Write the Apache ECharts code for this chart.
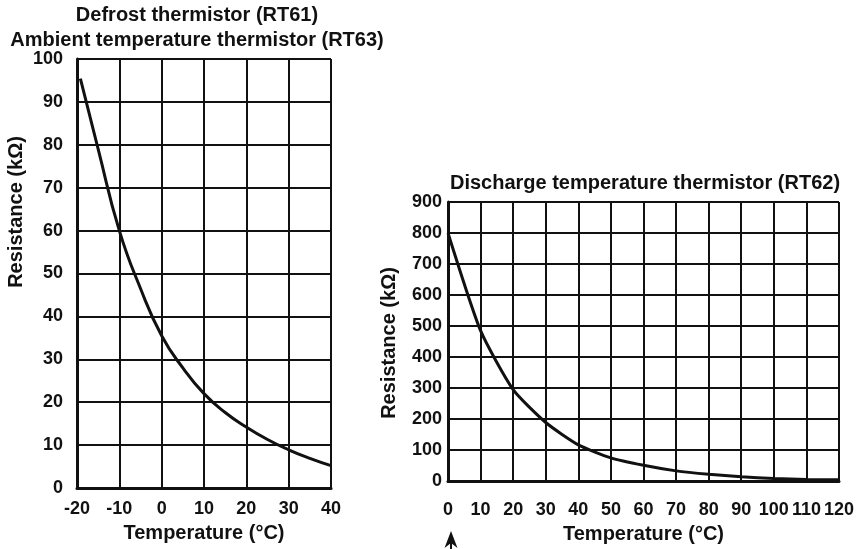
<!DOCTYPE html>
<html>
<head>
<meta charset="utf-8">
<script src="https://cdn.jsdelivr.net/npm/echarts@6/dist/echarts.min.js"></script>
<style>
  html, body { margin: 0; padding: 0; background: #fff; }
  #chart { width: 857px; height: 549px; }
</style>
</head>
<body>
<div id="chart"></div>
<script>
// defrost / ambient thermistor (RT61, RT63)
const leftTemps = [-19.2, -15, -10, -5, 0, 5, 10, 15, 20, 25, 30, 35, 40];
const leftRes = [95.4, 79, 60, 46.5, 35.5, 28, 22, 17.6, 14.2, 11.3, 8.9, 6.9, 5.2];
// discharge thermistor (RT62)
const rightTemps = [0, 10, 20, 30, 40, 50, 60, 70, 80, 90, 100, 110, 120];
const rightRes = [800, 485, 295, 189, 117, 75, 51, 33, 22, 14, 8.5, 5.5, 4];

const FONT = '"Liberation Sans", Arial, sans-serif';
const INK = "#111";

const chart = echarts.init(document.getElementById("chart"));

const labelStyle = (margin) => ({
  fontSize: 18,
  fontWeight: "bold",
  fontFamily: FONT,
  color: INK,
  margin: margin,
});
const nameStyle = {
  fontSize: 20,
  fontWeight: "bold",
  fontFamily: FONT,
  color: INK,
};
const axisBase = (gridIndex, min, max, interval) => ({
  type: "value",
  gridIndex: gridIndex,
  min: min,
  max: max,
  interval: interval,
  axisLine: { show: true, onZero: false, lineStyle: { color: INK, width: 3 } },
  axisTick: { show: false },
  splitLine: { show: true, lineStyle: { color: INK, width: 2 } },
});

let option = {
  animation: false,
  backgroundColor: "#fff",
  grid: [
    { left: 77, top: 59, width: 254, height: 429 },
    { left: 448, top: 202, width: 394, height: 285 },
  ],
  xAxis: [
    Object.assign(axisBase(0, -20, 40, 10), {
      axisLabel: labelStyle(12),
      name: "Temperature (°C)",
      nameLocation: "middle",
      nameGap: 35,
      nameTextStyle: nameStyle,
    }),
    Object.assign(axisBase(1, 0, 120, 10), {
      axisLabel: labelStyle(20),
      name: "Temperature (°C)",
      nameLocation: "middle",
      nameGap: 38,
      nameTextStyle: nameStyle,
    }),
  ],
  yAxis: [
    Object.assign(axisBase(0, 0, 100, 10), { axisLabel: labelStyle(14) }),
    Object.assign(axisBase(1, 0, 900, 100), { axisLabel: labelStyle(6) }),
  ],
  series: [
    {
      type: "line",
      xAxisIndex: 0,
      yAxisIndex: 0,
      data: leftTemps.map((t, i) => [t, leftRes[i]]),
      smooth: 0.5,
      showSymbol: false,
      lineStyle: { color: INK, width: 3 },
    },
    {
      type: "line",
      xAxisIndex: 1,
      yAxisIndex: 1,
      data: rightTemps.map((t, i) => [t, rightRes[i]]),
      smooth: 0.2,
      showSymbol: false,
      lineStyle: { color: INK, width: 3 },
    },
  ],
};
chart.setOption(option);

// titles, y axis names, and the little arrow under 0 °C
const textEl = (text, x, y, rotation) => ({
  type: "text",
  x: x,
  y: y,
  rotation: rotation || 0,
  style: {
    text: text,
    fontSize: 20,
    fontWeight: "bold",
    fontFamily: FONT,
    fill: INK,
    align: "center",
    verticalAlign: "middle",
  },
});
const zeroX = chart.convertToPixel({ xAxisIndex: 1 }, 0);
chart.setOption({
  graphic: [
    textEl("Defrost thermistor (RT61)", 197, 15),
    textEl("Ambient temperature thermistor (RT63)", 197, 40),
    textEl("Discharge temperature thermistor (RT62)", 645, 183),
    textEl("Resistance (kΩ)", 16, 212, Math.PI / 2),
    textEl("Resistance (kΩ)", 389, 343, Math.PI / 2),
    {
      type: "polygon",
      x: zeroX + 3,
      y: 531,
      shape: { points: [[0, 0], [6.5, 17], [0, 12], [-6.5, 17]] },
      style: { fill: INK },
    },
    {
      type: "line",
      x: zeroX + 3,
      y: 531,
      shape: { x1: 0, y1: 10, x2: 0, y2: 18 },
      style: { stroke: INK, lineWidth: 2 },
    },
  ],
});

window.addEventListener("resize", () => chart.resize());
</script>
</body>
</html>
